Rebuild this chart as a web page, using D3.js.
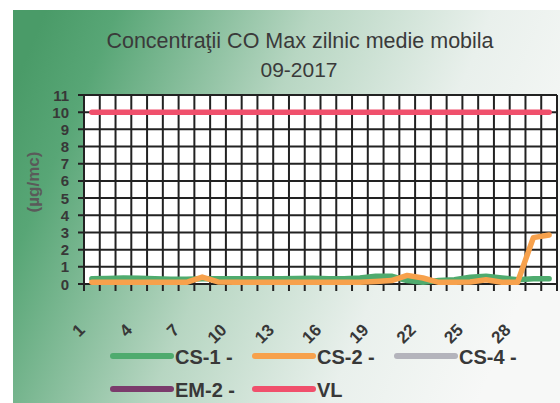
<!DOCTYPE html>
<html>
<head>
<meta charset="utf-8">
<script src="https://cdn.jsdelivr.net/npm/d3@7"></script>
<style>
  body { margin: 0; background: #fff; }
  text { font-family: "Liberation Sans", Arial, sans-serif; }
</style>
</head>
<body>
<script>
// data
var days = d3.range(1, 31);
var dayLabels = [1, 4, 7, 10, 13, 16, 19, 22, 25, 28];
var yTicks = d3.range(0, 12);

var cs1 = [0.3, 0.32, 0.35, 0.33, 0.3, 0.28, 0.28, 0.3, 0.3, 0.3,
           0.3, 0.3, 0.3, 0.32, 0.33, 0.3, 0.3, 0.35, 0.45, 0.45,
           0.2, 0.1, 0.2, 0.25, 0.4, 0.45, 0.35, 0.25, 0.3, 0.3];
var cs2 = [0.1, 0.1, 0.1, 0.1, 0.1, 0.1, 0.1, 0.4, 0.12, 0.1,
           0.1, 0.1, 0.1, 0.1, 0.1, 0.1, 0.1, 0.1, 0.15, 0.2,
           0.5, 0.35, 0.1, 0.1, 0.12, 0.25, 0.1, 0.1, 2.7, 2.85];
var cs4 = [];
var em2 = [];
var vl = days.map(function() { return 10; });

var seriesNames = ["CS-1 -", "CS-2 -", "CS-4 -", "EM-2 -", "VL"];
var seriesColors = ["#4fab6e", "#f7a14c", "#b4b4bc", "#7b3b6c", "#f0506c"];
var seriesData = [cs1, cs2, cs4, em2, vl];

var svgWidth = 560;
var svgHeight = 403;

var svg = d3.select("body")
  .append("svg")
  .attr("width", svgWidth)
  .attr("height", svgHeight);

// background gradient, green on the left fading out to white
var grad = svg.append("defs").append("linearGradient")
  .attr("id", "bg")
  .attr("x1", "0").attr("y1", "0.2")
  .attr("x2", "1").attr("y2", "0.5");
grad.append("stop").attr("offset", "0").attr("stop-color", "#4a9b68");
grad.append("stop").attr("offset", "0.12").attr("stop-color", "#58a676");
grad.append("stop").attr("offset", "0.45").attr("stop-color", "#b7d6c2");
grad.append("stop").attr("offset", "0.75").attr("stop-color", "#e9f0ec");
grad.append("stop").attr("offset", "1").attr("stop-color", "#f7f8f7");

svg.append("rect")
  .attr("x", 13).attr("y", 10)
  .attr("width", svgWidth - 13).attr("height", svgHeight - 10)
  .attr("fill", "url(#bg)");

// title
svg.append("text")
  .attr("x", 300).attr("y", 48)
  .attr("text-anchor", "middle")
  .attr("font-size", 21.5)
  .attr("fill", "#3a3a3a")
  .text("Concentraţii CO Max zilnic medie mobila");
svg.append("text")
  .attr("x", 299).attr("y", 77)
  .attr("text-anchor", "middle")
  .attr("font-size", 21)
  .attr("fill", "#3a3a3a")
  .text("09-2017");

// scales
var xScale = d3.scaleBand().domain(days).range([84, 557]);
var yScale = d3.scaleLinear().domain([0, 11]).range([284, 95]);
var cx = function(d) { return xScale(d) + xScale.bandwidth() / 2; };

// plot area
svg.append("rect")
  .attr("x", 84).attr("y", 95)
  .attr("width", 473).attr("height", 189)
  .attr("fill", "#fff");

var grid = svg.append("g").attr("stroke", "#222").attr("stroke-width", 2);

grid.selectAll(".h")
  .data(yTicks)
  .enter().append("line")
  .attr("x1", 78).attr("x2", 557)
  .attr("y1", function(d) { return yScale(d); })
  .attr("y2", function(d) { return yScale(d); });

var bounds = days.map(function(d) { return xScale(d); }).concat([557]);
grid.selectAll(".v")
  .data(bounds)
  .enter().append("line")
  .attr("x1", function(d) { return d; })
  .attr("x2", function(d) { return d; })
  .attr("y1", 95).attr("y2", 291);

// y axis labels
svg.append("g").selectAll("text")
  .data(yTicks)
  .enter().append("text")
  .attr("x", 69)
  .attr("y", function(d) { return yScale(d) + 5.5; })
  .attr("text-anchor", "end")
  .attr("font-size", 15)
  .attr("font-weight", "bold")
  .attr("fill", "#383838")
  .text(function(d) { return d; });

svg.append("text")
  .attr("transform", "translate(39,182) rotate(-90)")
  .attr("text-anchor", "middle")
  .attr("font-size", 17)
  .attr("font-weight", "bold")
  .attr("fill", "#5a5a5a")
  .text("(µg/mc)");

// x axis labels
svg.append("g").selectAll("text")
  .data(dayLabels)
  .enter().append("text")
  .attr("transform", function(d) {
    return "translate(" + (cx(d) - 6) + ",331) rotate(-45)";
  })
  .attr("text-anchor", "end")
  .attr("font-size", 17)
  .attr("font-weight", "bold")
  .attr("fill", "#383838")
  .text(function(d) { return d; });

// series lines
var line = d3.line()
  .x(function(d, i) { return cx(days[i]); })
  .y(function(d) { return yScale(d); });

svg.append("g").selectAll("path")
  .data(seriesData)
  .enter().append("path")
  .attr("d", function(d) { return d.length ? line(d) : null; })
  .attr("fill", "none")
  .attr("stroke", function(d, i) { return seriesColors[i]; })
  .attr("stroke-width", 5.5)
  .attr("stroke-linejoin", "round")
  .attr("stroke-linecap", "round");

// legend
var legend = svg.append("g").selectAll("g")
  .data(seriesNames)
  .enter().append("g")
  .attr("transform", function(d, i) {
    return "translate(" + (113 + (i % 3) * 142) + "," + (356 + Math.floor(i / 3) * 33) + ")";
  });

legend.append("line")
  .attr("x1", 0).attr("x2", 58)
  .attr("stroke", function(d, i) { return seriesColors[i]; })
  .attr("stroke-width", 6)
  .attr("stroke-linecap", "round");

legend.append("text")
  .attr("x", 62).attr("y", 8)
  .attr("font-size", 20)
  .attr("font-weight", "bold")
  .attr("fill", "#383838")
  .text(function(d) { return d; });
</script>
</body>
</html>
